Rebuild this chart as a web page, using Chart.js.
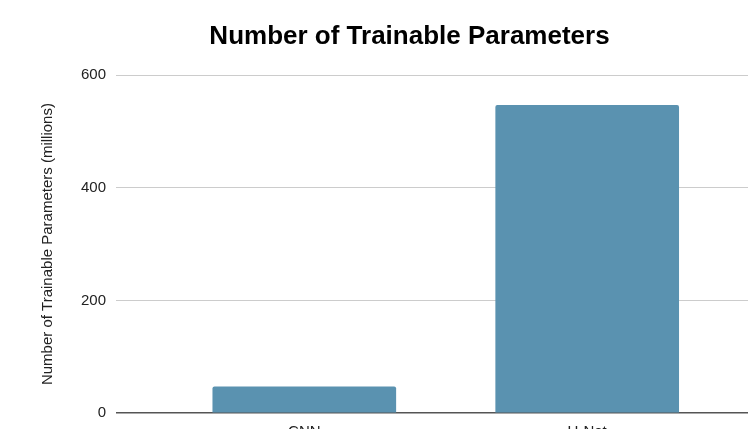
<!DOCTYPE html>
<html>
<head>
<meta charset="utf-8">
<script src="https://cdn.jsdelivr.net/npm/chart.js@4/dist/chart.umd.min.js"></script>
<style>
html,body{margin:0;padding:0;background:#fff;overflow:hidden;}
#wrap{position:relative;width:780px;height:460px;}
</style>
</head>
<body>
<div id="wrap"><canvas id="c" width="780" height="460"></canvas></div>
<script>
const chartTitle = 'Number of Trainable Parameters';
const yAxisTitle = 'Number of Trainable Parameters (millions)';
const categories = ['CNN', 'U-Net'];
const paramsMillions = [46.5, 546.5];
const yTicks = [0, 200, 400, 600];

const FONT = "'Liberation Sans', Arial, sans-serif";

const points = categories.map((c, i) => ({ x: i, y: paramsMillions[i] }));

new Chart(document.getElementById('c'), {
  type: 'bar',
  data: {
    datasets: [{
      label: 'Parameters',
      data: points,
      backgroundColor: '#5a92b0',
      borderWidth: 0,
      borderRadius: { topLeft: 2, topRight: 2, bottomLeft: 0, bottomRight: 0 },
      borderSkipped: 'bottom',
      barThickness: 183
    }]
  },
  options: {
    responsive: false,
    animation: false,
    devicePixelRatio: 1,
    layout: { padding: { left: 39, right: 0, top: 21, bottom: 9 } },
    plugins: {
      legend: { display: false },
      tooltip: { enabled: false },
      title: {
        display: true,
        text: chartTitle,
        color: '#000',
        font: { family: FONT, size: 26, weight: 'bold' },
        padding: { top: 0, bottom: 23 }
      }
    },
    scales: {
      x: {
        type: 'linear',
        offset: false,
        min: -0.6655,
        max: 1.6815,
        grid: { display: false, drawTicks: false, offset: false },
        border: { display: false },
        ticks: {
          stepSize: 1,
          includeBounds: false,
          autoSkip: false,
          maxRotation: 0,
          padding: 10,
          color: '#222',
          font: { family: FONT, size: 15 },
          callback: v => (Number.isInteger(v) && categories[v] !== undefined) ? categories[v] : ''
        }
      },
      y: {
        min: 0,
        max: 600,
        afterBuildTicks: s => { s.ticks = yTicks.map(v => ({ value: v })); },
        grid: {
          drawTicks: false,
          color: ctx => ctx.tick && ctx.tick.value === 0 ? '#555' : '#cccccc',
          lineWidth: ctx => ctx.tick && ctx.tick.value === 0 ? 1.5 : 1
        },
        border: { display: false },
        ticks: {
          padding: 10,
          color: '#222',
          font: { family: FONT, size: 15 }
        },
        title: {
          display: true,
          text: yAxisTitle,
          color: '#222',
          font: { family: FONT, size: 15 },
          padding: { top: 0, bottom: 14 }
        }
      }
    }
  }
});
</script>
</body>
</html>
